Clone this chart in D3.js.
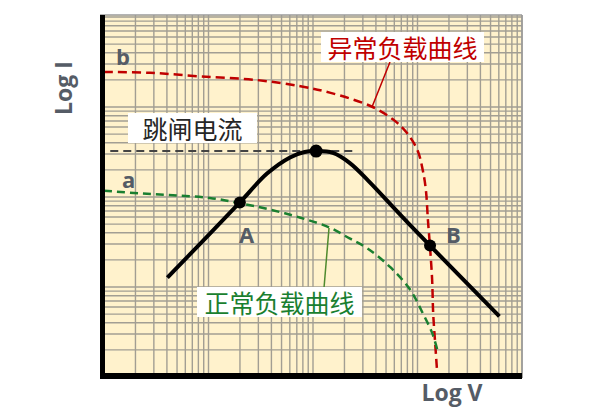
<!DOCTYPE html>
<html>
<head>
<meta charset="utf-8">
<script src="https://cdn.jsdelivr.net/npm/d3@7"></script>
<style>
  html, body { margin: 0; padding: 0; background: #ffffff; }
  svg { display: block; }
</style>
</head>
<body>
<svg id="chart" width="600" height="420"></svg>
<script>
// ---- Data (log10 units: logV on x, logI on y) ----
const decades = [0, 1, 2, 3];
const gridMultipliers = [1, 2, 3, 4, 5, 6, 7, 8, 9];

// abnormal load curve "b"
const abnormalX = [0, 0.44, 0.92, 1.46, 1.88, 2.16, 2.57, 2.79, 2.9, 3.0, 3.05, 3.08, 3.1, 3.12, 3.14, 3.15, 3.17, 3.19];
const abnormalY = [3.39, 3.38, 3.34, 3.3, 3.23, 3.16, 3.0, 2.84, 2.71, 2.52, 2.3, 2.08, 1.74, 1.44, 1.08, 0.71, 0.36, 0.02];

// normal load curve "a"
const normalX = [0, 0.34, 0.66, 1.01, 1.3, 1.59, 1.88, 2.16, 2.35, 2.52, 2.74, 2.93, 3.05, 3.14, 3.19];
const normalY = [2.07, 2.04, 2.02, 1.99, 1.93, 1.86, 1.77, 1.66, 1.54, 1.43, 1.22, 0.97, 0.71, 0.49, 0.3];

// device characteristic (solid black)
const deviceX = [0.62, 0.97, 1.3, 1.56, 1.78, 1.92, 2.03, 2.19, 2.35, 2.53, 2.83, 3.12, 3.77];
const deviceY = [1.12, 1.54, 1.94, 2.26, 2.44, 2.5, 2.51, 2.49, 2.38, 2.18, 1.81, 1.46, 0.69];

// marked points
const pointNames = ["A", "peak", "B"];
const pointX = [1.3, 2.03, 3.12];
const pointY = [1.94, 2.51, 1.46];

// trip current level
const tripLevel = 2.51;
const tripFrom = 0.06, tripTo = 2.42;

const labels = {
  trip: "跳闸电流",
  abnormal: "异常负载曲线",
  normal: "正常负载曲线",
  xAxis: "Log V",
  yAxis: "Log I"
};

// ---- Layout ----
const svg = d3.select("#chart");
const plot = { left: 100, right: 522, top: 15, bottom: 378 };

const x = d3.scaleLinear().domain([0, 4]).range([104, 522]);
const y = d3.scaleLinear().domain([0, 4]).range([377, 17]);

// background paper
svg.append("rect")
  .attr("x", plot.left).attr("y", plot.top)
  .attr("width", plot.right - plot.left).attr("height", plot.bottom - plot.top)
  .attr("fill", "#fff2cc");

// log grid
const gridVals = [];
decades.forEach(d => gridMultipliers.forEach(m => gridVals.push(d + Math.log10(m))));
gridVals.push(4);

const grid = svg.append("g").attr("stroke", "#a29e93").attr("stroke-width", 1.4);
grid.selectAll("line.v").data(gridVals.filter(v => x(v) >= plot.left && x(v) <= plot.right))
  .join("line").attr("class", "v")
  .attr("x1", d => x(d)).attr("x2", d => x(d))
  .attr("y1", plot.top).attr("y2", plot.bottom);
grid.selectAll("line.h").data(gridVals.filter(v => y(v) >= plot.top && y(v) <= plot.bottom))
  .join("line").attr("class", "h")
  .attr("y1", d => y(d)).attr("y2", d => y(d))
  .attr("x1", plot.left).attr("x2", plot.right);

// paper border top/right
svg.append("line").attr("x1", plot.left).attr("x2", plot.right).attr("y1", plot.top).attr("y2", plot.top)
  .attr("stroke", "#9a9a9a").attr("stroke-width", 1.5);
svg.append("line").attr("x1", plot.right).attr("x2", plot.right).attr("y1", plot.top).attr("y2", plot.bottom)
  .attr("stroke", "#9a9a9a").attr("stroke-width", 1.5);

const line = d3.line().x(d => x(d[0])).y(d => y(d[1])).curve(d3.curveCatmullRom.alpha(0.5));
const zip = (a, b) => a.map((v, i) => [v, b[i]]);

// trip current dashed line
svg.append("line")
  .attr("x1", x(tripFrom)).attr("x2", x(tripTo))
  .attr("y1", y(tripLevel)).attr("y2", y(tripLevel))
  .attr("stroke", "#444").attr("stroke-width", 2).attr("stroke-dasharray", "8,5");

// abnormal (red dashed)
svg.append("path").datum(zip(abnormalX, abnormalY))
  .attr("d", line).attr("fill", "none")
  .attr("stroke", "#c00000").attr("stroke-width", 2.5).attr("stroke-dasharray", "9,5");

// normal (green dashed)
svg.append("path").datum(zip(normalX, normalY))
  .attr("d", line).attr("fill", "none")
  .attr("stroke", "#1a7f30").attr("stroke-width", 2.5).attr("stroke-dasharray", "8,5");

// device (black solid)
svg.append("path").datum(zip(deviceX, deviceY))
  .attr("d", line).attr("fill", "none")
  .attr("stroke", "#000").attr("stroke-width", 4).attr("stroke-linecap", "square");

// points
svg.selectAll("circle.pt").data(pointNames)
  .join("circle").attr("class", "pt")
  .attr("cx", (d, i) => x(pointX[i])).attr("cy", (d, i) => y(pointY[i]))
  .attr("r", (d, i) => i === 1 ? 6.5 : 6)
  .attr("fill", "#000");

// axes (thick black)
svg.append("rect").attr("x", 100).attr("y", plot.top).attr("width", 5).attr("height", 364).attr("fill", "#000");
svg.append("rect").attr("x", 100).attr("y", 373).attr("width", 422).attr("height", 6).attr("fill", "#000");

// leader lines
svg.append("line").attr("x1", 390).attr("y1", 62).attr("x2", 372).attr("y2", 107)
  .attr("stroke", "#c00000").attr("stroke-width", 1.5);
svg.append("line").attr("x1", 329).attr("y1", 228).attr("x2", 324).attr("y2", 288)
  .attr("stroke", "#4f8a2e").attr("stroke-width", 1.5);

// label boxes
const cjk = "'Noto Sans CJK SC', 'Noto Sans', sans-serif";
function boxLabel(bx, by, bw, bh, text, color) {
  svg.append("rect").attr("x", bx).attr("y", by).attr("width", bw).attr("height", bh).attr("fill", "#fff");
  svg.append("text").attr("x", bx + bw / 2).attr("y", by + bh / 2)
    .attr("text-anchor", "middle").attr("dominant-baseline", "central")
    .attr("font-family", cjk).attr("font-size", 25).attr("fill", color).text(text);
}
boxLabel(128, 113, 129, 30, labels.trip, "#262626");
boxLabel(321, 32, 163, 30, labels.abnormal, "#c00000");
boxLabel(197, 287, 165, 30, labels.normal, "#1a7f30");

// letter labels
const latin = "'Open Sans', 'Noto Sans', sans-serif";
const gray = "#555c66";
function letter(tx, ty, t, size) {
  svg.append("text").attr("x", tx).attr("y", ty).attr("font-family", latin)
    .attr("font-weight", "bold").attr("font-size", size).attr("fill", gray).text(t);
}
letter(116, 65, "b", 22);
letter(122, 188, "a", 22);
letter(239, 243, "A", 22);
letter(446, 243, "B", 22);

// axis titles
svg.append("text").attr("x", 452).attr("y", 401).attr("text-anchor", "middle")
  .attr("font-family", latin).attr("font-weight", "bold").attr("font-size", 23).attr("fill", gray)
  .text(labels.xAxis);
svg.append("text").attr("transform", "translate(72,88) rotate(-90)").attr("text-anchor", "middle")
  .attr("font-family", latin).attr("font-weight", "bold").attr("font-size", 23).attr("fill", gray)
  .text(labels.yAxis);
</script>
</body>
</html>
